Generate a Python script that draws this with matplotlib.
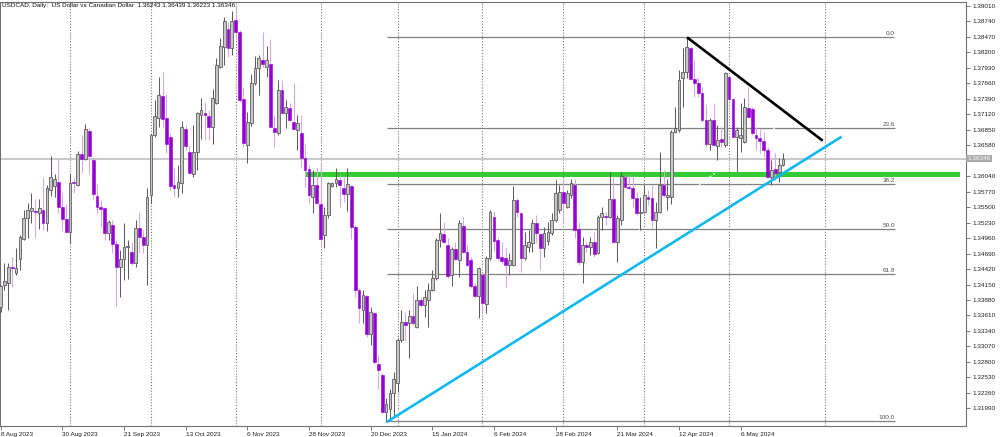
import matplotlib
matplotlib.use('Agg')
import matplotlib.pyplot as plt
import matplotlib.transforms as mtransforms
import numpy as np
import pandas as pd

# ---------------- data (USDCAD daily) ----------------
opens = [1.3375, 1.34150, 1.34168, 1.34459, 1.34343, 1.34587, 1.34936, 1.35303, 1.35431, 1.35431,
         1.35402, 1.35449, 1.35216, 1.35798, 1.35867, 1.35937, 1.35507, 1.35291, 1.35070, 1.35943,
         1.35885, 1.36420, 1.36335, 1.36834, 1.36316, 1.35693, 1.35507, 1.35478, 1.35053, 1.35181,
         1.34849, 1.34459, 1.34587, 1.34797, 1.34709, 1.34517, 1.35134, 1.34971, 1.34838, 1.35710,
         1.36758, 1.37049, 1.37439, 1.37049, 1.36717, 1.35885, 1.35827, 1.35914, 1.36857, 1.36461,
         1.36077, 1.36467, 1.37107, 1.37148, 1.37090, 1.36903, 1.37322, 1.37951, 1.38289, 1.38603,
         1.38271, 1.38766, 1.38562, 1.37381, 1.36583, 1.36973, 1.37660, 1.37922, 1.38067, 1.37951,
         1.37998, 1.36874, 1.36799, 1.37544, 1.37148, 1.37235, 1.36991, 1.36845, 1.36787, 1.36351,
         1.36159, 1.35669, 1.35885, 1.35553, 1.35012, 1.35361, 1.35867, 1.35914, 1.35972, 1.35827,
         1.35728, 1.35873, 1.35157, 1.34052, 1.33702, 1.33947, 1.33295, 1.33656, 1.32771, 1.32570,
         1.31920, 1.31978, 1.32252, 1.32426, 1.33182, 1.33502, 1.33473, 1.33601, 1.33415, 1.33880,
         1.33793, 1.33880, 1.34055, 1.34258, 1.34927, 1.35032, 1.34840, 1.34317, 1.34765, 1.34578,
         1.35172, 1.34724, 1.34578, 1.34125, 1.33950, 1.34316, 1.33810, 1.34607, 1.35334, 1.34927,
         1.34624, 1.34607, 1.34491, 1.34491, 1.35625, 1.35392, 1.34607, 1.34811, 1.34880, 1.35218,
         1.35032, 1.34782, 1.34915, 1.35043, 1.35276, 1.35450, 1.35770, 1.35497, 1.35712, 1.35887,
         1.35113, 1.34549, 1.34840, 1.34811, 1.34898, 1.34694, 1.35322, 1.35346, 1.35322, 1.35637,
         1.34898, 1.35276, 1.36020, 1.35858, 1.35829, 1.35654, 1.35392, 1.35421, 1.35683, 1.35654,
         1.35276, 1.35421, 1.35887, 1.35683, 1.35683, 1.36817, 1.36846, 1.37748, 1.37864, 1.38272,
         1.37731, 1.37661, 1.37486, 1.37021, 1.36602, 1.37021, 1.36567, 1.36684, 1.36585, 1.37777,
         1.37382, 1.36730, 1.36701, 1.36643, 1.37225, 1.37207, 1.36759, 1.36701, 1.36660, 1.36497,
         1.36020, 1.36160, 1.36119, 1.36243]
highs = [1.3414, 1.34517, 1.34517, 1.34634, 1.34779, 1.35012, 1.35449, 1.35565, 1.35739, 1.35635,
         1.35635, 1.36030, 1.35885, 1.36391, 1.36077, 1.36351, 1.35751, 1.35553, 1.36089, 1.36001,
         1.36479, 1.36758, 1.36950, 1.36886, 1.36380, 1.35902, 1.35623, 1.35495, 1.35274, 1.35274,
         1.34925, 1.34750, 1.35227, 1.34925, 1.34896, 1.35274, 1.35419, 1.35099, 1.35827, 1.36770,
         1.37369, 1.37776, 1.37864, 1.37468, 1.36787, 1.36176, 1.36234, 1.37002, 1.36932, 1.36572,
         1.36932, 1.37165, 1.37398, 1.37340, 1.37194, 1.37555, 1.38097, 1.38446, 1.38812, 1.38737,
         1.38929, 1.38999, 1.38591, 1.37590, 1.37165, 1.37823, 1.38137, 1.38155, 1.38562, 1.38312,
         1.38428, 1.37107, 1.37718, 1.37701, 1.37369, 1.37311, 1.37660, 1.37107, 1.37107, 1.36601,
         1.36234, 1.36147, 1.36205, 1.36263, 1.35507, 1.35943, 1.35943, 1.36176, 1.36060, 1.36030,
         1.36176, 1.35885, 1.35187, 1.34081, 1.34063, 1.33964, 1.33761, 1.33673, 1.32917, 1.32600,
         1.32164, 1.32327, 1.32630, 1.33211, 1.33706, 1.33648, 1.33706, 1.33997, 1.34125, 1.33939,
         1.34055, 1.34171, 1.34404, 1.34957, 1.35404, 1.35247, 1.34957, 1.34811, 1.34898, 1.35276,
         1.35335, 1.34840, 1.34637, 1.34171, 1.34462, 1.34345, 1.34648, 1.35450, 1.35439, 1.34985,
         1.34898, 1.34811, 1.34694, 1.35869, 1.35654, 1.35392, 1.35072, 1.35101, 1.35288, 1.35363,
         1.35055, 1.35160, 1.35247, 1.35392, 1.35974, 1.35880, 1.35974, 1.35799, 1.36000, 1.36000,
         1.35247, 1.34985, 1.34898, 1.34985, 1.35072, 1.35363, 1.35509, 1.35421, 1.36119, 1.36032,
         1.35363, 1.36119, 1.36061, 1.36061, 1.36061, 1.35770, 1.35683, 1.35887, 1.35799, 1.35887,
         1.35596, 1.36468, 1.36148, 1.35986, 1.36850, 1.37242, 1.37893, 1.38272, 1.38475, 1.38301,
         1.38068, 1.37748, 1.37603, 1.37283, 1.37050, 1.37312, 1.36934, 1.36905, 1.37864, 1.37806,
         1.37399, 1.36905, 1.37312, 1.37399, 1.37603, 1.37254, 1.36905, 1.36875, 1.36817, 1.36556,
         1.36323, 1.36439, 1.36352, 1.36439]
lows = [1.3367, 1.34052, 1.33702, 1.34110, 1.34314, 1.34401, 1.34925, 1.34954, 1.35216, 1.34954,
        1.35111, 1.35099, 1.35088, 1.35693, 1.35681, 1.35390, 1.35099, 1.35041, 1.34866, 1.35751,
        1.35867, 1.36089, 1.36321, 1.36077, 1.35623, 1.35390, 1.35157, 1.34925, 1.34925, 1.34692,
        1.33772, 1.33935, 1.34226, 1.34238, 1.34488, 1.34459, 1.34692, 1.34692, 1.34139, 1.35565,
        1.36729, 1.36903, 1.36903, 1.36438, 1.35798, 1.35681, 1.35681, 1.35739, 1.36496, 1.36089,
        1.36030, 1.36147, 1.36682, 1.36671, 1.36671, 1.36601, 1.37299, 1.37922, 1.37980, 1.38126,
        1.38155, 1.38533, 1.37340, 1.36543, 1.36275, 1.36915, 1.37631, 1.37456, 1.37951, 1.37765,
        1.36874, 1.36543, 1.36758, 1.37136, 1.36874, 1.37008, 1.36845, 1.36496, 1.36176, 1.35856,
        1.35577, 1.35402, 1.35553, 1.34838, 1.34779, 1.35303, 1.35856, 1.35844, 1.35507, 1.35594,
        1.35437, 1.34936, 1.33935, 1.33470, 1.33470, 1.33237, 1.33091, 1.32771, 1.32335, 1.31900,
        1.31746, 1.31790, 1.31860, 1.32281, 1.33153, 1.33182, 1.32862, 1.33444, 1.33386, 1.33764,
        1.33590, 1.33415, 1.34043, 1.34229, 1.34800, 1.34869, 1.34258, 1.34125, 1.34578, 1.34288,
        1.34695, 1.34474, 1.34084, 1.33910, 1.33560, 1.33647, 1.33647, 1.34578, 1.34741, 1.34578,
        1.34520, 1.34112, 1.34316, 1.34473, 1.35334, 1.34374, 1.34578, 1.34723, 1.34723, 1.34869,
        1.34403, 1.34636, 1.34840, 1.35014, 1.35247, 1.35400, 1.35247, 1.35480, 1.35654, 1.34956,
        1.34491, 1.34182, 1.34723, 1.34665, 1.34636, 1.34683, 1.35101, 1.35189, 1.35305, 1.34869,
        1.34549, 1.35189, 1.35829, 1.35811, 1.35509, 1.35363, 1.35101, 1.35392, 1.35538, 1.35130,
        1.34781, 1.35392, 1.35683, 1.35451, 1.35560, 1.36788, 1.36817, 1.37254, 1.37748, 1.37719,
        1.37428, 1.37428, 1.36992, 1.36556, 1.36497, 1.36567, 1.36323, 1.36556, 1.36556, 1.37370,
        1.36718, 1.36119, 1.36468, 1.36614, 1.37050, 1.36759, 1.36497, 1.36439, 1.36381, 1.36003,
        1.35887, 1.35974, 1.35945, 1.36223]
closes = [1.3412, 1.34209, 1.34459, 1.34441, 1.34430, 1.34971, 1.35303, 1.35449, 1.35478, 1.35419,
          1.35489, 1.35227, 1.35827, 1.36030, 1.35990, 1.35495, 1.35297, 1.35070, 1.35914, 1.35926,
          1.36420, 1.36339, 1.36857, 1.36397, 1.35728, 1.35507, 1.35460, 1.35053, 1.35233, 1.34849,
          1.34459, 1.34599, 1.34808, 1.34826, 1.34517, 1.35140, 1.34971, 1.34843, 1.35681, 1.36758,
          1.37090, 1.37456, 1.37031, 1.36601, 1.35867, 1.35827, 1.35943, 1.36903, 1.36572, 1.36100,
          1.36467, 1.37148, 1.37194, 1.37101, 1.36892, 1.37398, 1.37980, 1.38312, 1.38754, 1.38271,
          1.38754, 1.38562, 1.37369, 1.36624, 1.36991, 1.37660, 1.37922, 1.38097, 1.37998, 1.38067,
          1.36903, 1.36816, 1.37544, 1.37148, 1.37253, 1.37020, 1.36857, 1.36962, 1.36351, 1.36147,
          1.35710, 1.35885, 1.35577, 1.34936, 1.35361, 1.35914, 1.35926, 1.35984, 1.35885, 1.35728,
          1.35897, 1.35157, 1.34052, 1.33732, 1.33964, 1.33295, 1.33673, 1.32800, 1.32655, 1.31920,
          1.32060, 1.32252, 1.32496, 1.33182, 1.33502, 1.33444, 1.33601, 1.33473, 1.33880, 1.33793,
          1.33927, 1.34055, 1.34258, 1.34927, 1.35044, 1.34898, 1.34299, 1.34765, 1.34590, 1.35230,
          1.34724, 1.34491, 1.34125, 1.33950, 1.34433, 1.33822, 1.34607, 1.35421, 1.34915, 1.34607,
          1.34566, 1.34491, 1.34578, 1.35625, 1.35421, 1.34607, 1.34840, 1.34898, 1.35218, 1.35043,
          1.34782, 1.35043, 1.35072, 1.35276, 1.35753, 1.35770, 1.35567, 1.35741, 1.35916, 1.35101,
          1.34549, 1.34840, 1.34811, 1.34898, 1.34683, 1.35322, 1.35392, 1.35322, 1.35637, 1.34898,
          1.35305, 1.36044, 1.35846, 1.35829, 1.35654, 1.35392, 1.35421, 1.35712, 1.35642, 1.35276,
          1.35421, 1.35887, 1.35712, 1.35712, 1.36817, 1.36875, 1.37719, 1.37864, 1.38289, 1.37731,
          1.37672, 1.37486, 1.37021, 1.36602, 1.37021, 1.36585, 1.36672, 1.36643, 1.37835, 1.37382,
          1.36730, 1.36846, 1.36759, 1.37254, 1.37079, 1.36788, 1.36701, 1.36660, 1.36497, 1.36032,
          1.36149, 1.36102, 1.36236, 1.36346]

holidays = ['2023-12-25', '2024-01-01']
y_ticks = [1.31990 + 0.0027 * k for k in range(27)]
fib_high, fib_low = 1.38470, 1.31770
fib_levels = [0.0, 23.6, 38.2, 50.0, 61.8, 100.0]
fib_span = [(100.2, fib_low), (232.1, fib_high)]          # bar index, price
support_zone = (1.36018, 1.36122)                           # green zone
support_zone_from = 79
uptrend = [(100.2, 1.31751), (218.2, 1.36730)]              # blue line (bar, price)
downtrend = [(178.1, 1.38464), (213.3, 1.36660)]           # black line (bar, price)
label_every = 16
future_separator_after = 11
header = "USDCAD, Daily:  US Dollar vs Canadian Dollar  1.36243 1.36439 1.36223 1.36346"

# ---------------- figure ----------------
FONT = 'Liberation Sans'
W, H = 1000, 437
fig = plt.figure(figsize=(W / 100, H / 100), dpi=100)
L, R, T, B = 0, 966, 2, 426
ax = fig.add_axes([L / W, 1 - B / H, (R - L) / W, (B - T) / H])

n = len(opens)
dates = pd.bdate_range('2023-08-08', periods=n + 40)
dates = dates[~dates.isin(pd.to_datetime(holidays))][:n]
idx = np.arange(n)
o = np.array(opens); h = np.array(highs); lo = np.array(lows); c = np.array(closes)
bull = c >= o

bull_face, bull_edge = '#c6c6c6', '#5e5e5e'
bear_face, bear_wick = '#9400d3', '#d9a5f0'

# month separators (dotted)
month = np.array([d.month for d in dates])
seps = list(np.where(month[1:] != month[:-1])[0] + 1)
seps.append(n - 1 + future_separator_after)
for s in seps:
    ax.axvline(s, color='#7a7a7a', lw=0.8, ls=(0, (1, 1.6)), zorder=0.5)

# current price line
ax.axhline(closes[-1], color='#c8c8c8', lw=1.4, zorder=0.8)

# support zone
ax.fill_between([support_zone_from, 249], support_zone[0], support_zone[1],
                color='#33cc33', lw=0, zorder=1)

# fib retracement
x0f, x1f = fib_span[0][0], fib_span[1][0]
for lv in fib_levels:
    p = fib_high - (fib_high - fib_low) * lv / 100.0
    ax.plot([x0f, x1f], [p, p], color='#808080', lw=0.9, zorder=1.2, solid_capstyle='butt')
    ax.text(x1f, p + 0.00018, f'{lv:.1f}', fontsize=4.6, family=FONT, color='#505050',
            ha='right', va='bottom', zorder=5)
ax.plot([fib_span[0][0], fib_span[1][0]], [fib_span[0][1], fib_span[1][1]],
        color='white', lw=0.8, ls=(0, (2, 2)), zorder=1.3)

# candles
ax.vlines(idx[bull], lo[bull], h[bull], color=bull_edge, lw=0.75, zorder=2)
ax.vlines(idx[~bull], lo[~bull], h[~bull], color=bear_wick, lw=0.75, zorder=2)
bw = 0.72
mind = 0.00004
bot = np.minimum(o, c)
hei = np.maximum(np.abs(c - o), mind)
ax.bar(idx[bull], hei[bull], bottom=bot[bull], width=bw, color=bull_face,
       edgecolor=bull_edge, linewidth=0.6, zorder=3)
ax.bar(idx[~bull], hei[~bull], bottom=bot[~bull], width=bw, color=bear_face,
       edgecolor=bear_face, linewidth=0.4, zorder=3)

# trend lines
ax.plot([uptrend[0][0], uptrend[1][0]], [uptrend[0][1], uptrend[1][1]],
        color='#10b8f0', lw=1.9, zorder=4, solid_capstyle='butt')
ax.plot([downtrend[0][0], downtrend[1][0]], [downtrend[0][1], downtrend[1][1]],
        color='black', lw=1.9, zorder=4, solid_capstyle='butt')

# axes limits
ppx = 0.0001745
ax.set_xlim(-0.64 / 3.854, (R - L - 0.64) / 3.854)
ax.set_ylim(1.39115 - B * ppx, 1.39115 - T * ppx)

# y axis on the right (label hidden under the current-price box is left blank)
ax.yaxis.tick_right()
ax.set_yticks(y_ticks)
ylabels = [f'{v:.5f}' if abs(v - closes[-1]) > 0.0009 else '' for v in y_ticks]
ax.set_yticklabels(ylabels, fontsize=4.6, family=FONT, color='#202020')
ax.tick_params(axis='y', length=3, width=0.6, pad=1.5, color='#606060')

# x axis labels
xt = list(range(0, n, label_every))
ax.set_xticks(xt)
ax.set_xticklabels([f'{d.day} {d.strftime("%b %Y")}' for d in dates[xt]],
                   fontsize=4.6, family=FONT, color='#202020', ha='left')
ax.tick_params(axis='x', length=3, width=0.6, pad=1.5, color='#606060')

for sp in ax.spines.values():
    sp.set_color('#707070')
    sp.set_linewidth(0.8)

# current price box
trans = mtransforms.blended_transform_factory(ax.transAxes, ax.transData)
ax.text(1.0 + 1.5 / (R - L), closes[-1], f'{closes[-1]:.5f}', transform=trans,
        fontsize=4.6, family=FONT, color='white', ha='left', va='center', zorder=10,
        bbox=dict(boxstyle='square,pad=0.2', fc='#a8a8a8', ec='none'), clip_on=False)

fig.text(2 / W, 1 - 6 / H, header, fontsize=4.6, family=FONT, color='#101010',
         ha='left', va='center')

fig.savefig('out.png', dpi=100)
